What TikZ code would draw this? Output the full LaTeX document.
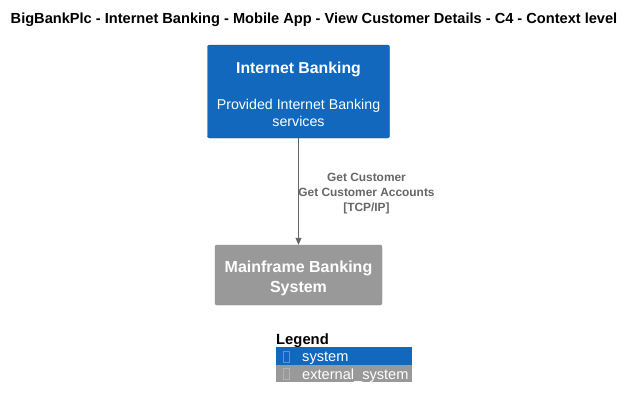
\documentclass[tikz,border=0pt]{standalone}
\usepackage{fontspec}
\setmainfont{Liberation Sans}
\usetikzlibrary{arrows.meta, positioning}
\definecolor{sysblue}{HTML}{1168BD}
\definecolor{extgray}{HTML}{999999}
\definecolor{relgray}{HTML}{666666}

\begin{document}
\begin{tikzpicture}[
    x=1pt, y=-1pt,
    system/.style={rectangle, rounded corners=2pt, fill=sysblue, draw=sysblue!85!black, line width=0.4pt, text=white, align=center, inner sep=0pt},
    extsystem/.style={rectangle, rounded corners=2pt, fill=extgray, draw=extgray!90!black, line width=0.4pt, text=white, align=center, inner sep=0pt},
    relation/.style={-{Triangle[length=7pt, width=6pt]}, draw=relgray, fill=relgray, line width=0.8pt},
    rellabel/.style={text=relgray, font=\bfseries\fontsize{11.9}{15}\selectfont, align=center},
    legendrow/.style={rectangle, minimum width=136pt, minimum height=17.5pt, inner sep=0pt, anchor=north west},
    legendtext/.style={text=white, font=\fontsize{14.6}{15}\selectfont, anchor=west, inner sep=0pt},
    glyphbox/.style={rectangle, line width=0.4pt, minimum width=6pt, minimum height=11pt, inner sep=0pt}
]
    \useasboundingbox (0,0) rectangle (636,408);

    % Title
    \node[font=\bfseries\fontsize{14.6}{16}\selectfont] (title) at (314,20) {BigBankPlc - Internet Banking - Mobile App - View Customer Details - C4 - Context level};

    % Internet Banking
    \node[system, minimum width=182pt, minimum height=93pt] (banking) at (298.5,91.5) {};
    \node[text=white, font=\bfseries\fontsize{15.8}{18}\selectfont] (bankingname) at (298.5,69) {Internet Banking};
    \node[text=white, font=\fontsize{14.2}{17}\selectfont, align=center] (bankingdesc) at (298.5,112.5) {Provided Internet Banking\\services};

    % Mainframe Banking System
    \node[extsystem, minimum width=167pt, minimum height=60pt] (mainframe) at (298.5,275) {};
    \node[text=white, font=\bfseries\fontsize{16}{20}\selectfont, align=center] (mainframename) at (298.5,278) {Mainframe Banking\\System};

    % Relationship
    \draw[relation] (banking) -- (mainframe);
    \node[rellabel] (rel) at (366.5,194) {Get Customer\\Get Customer Accounts\\{}[TCP/IP]};

    % Legend
    \node[font=\bfseries\fontsize{14.8}{16}\selectfont, anchor=west, inner sep=0pt] (legend) at (276,340.5) {Legend};
    \node[legendrow, fill=sysblue] (legsys) at (276,347) {};
    \node[legendrow, fill=extgray] (legext) at (276,364.5) {};
    \node[glyphbox, draw=sysblue!70!white] (glyphsys) at (286,356.5) {};
    \node[glyphbox, draw=extgray!75!white] (glyphext) at (286,374) {};
    \node[legendtext] (legsystext) at (302,358) {system};
    \node[legendtext] (legexttext) at (302,375.3) {external\_system};
\end{tikzpicture}
\end{document}
